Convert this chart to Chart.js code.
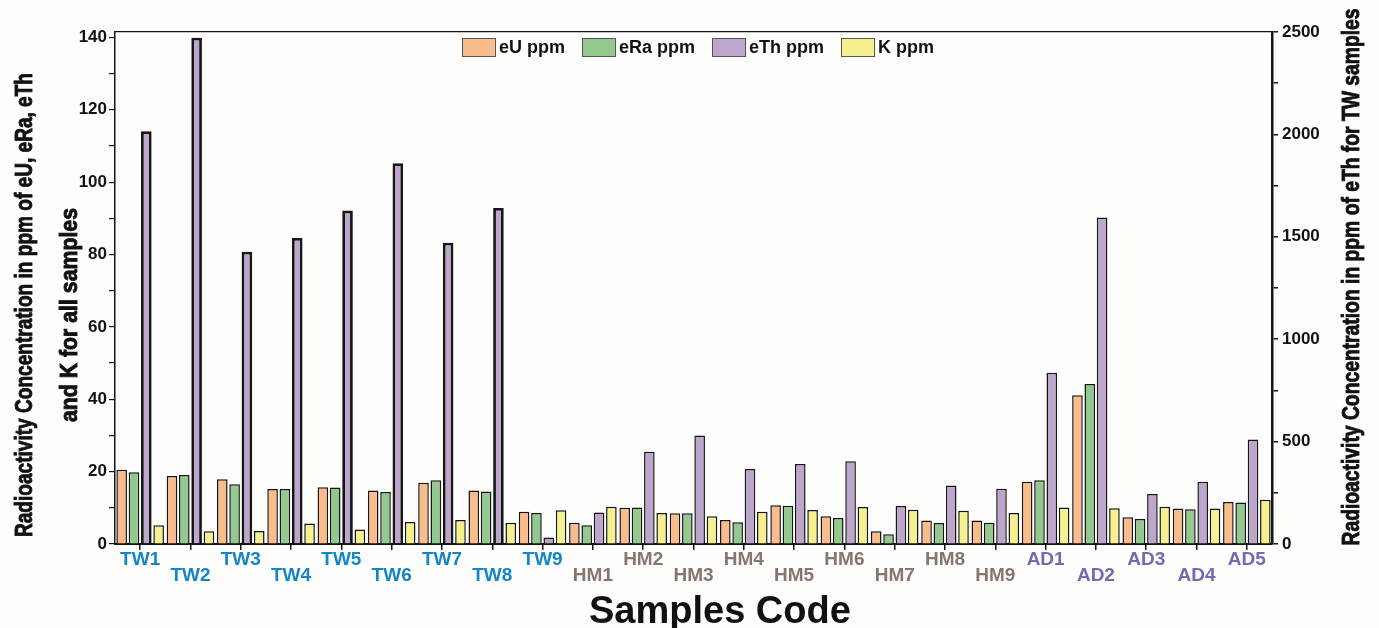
<!DOCTYPE html>
<html>
<head>
<meta charset="utf-8">
<script src="https://cdn.jsdelivr.net/npm/chart.js@4.4.1/dist/chart.umd.min.js"></script>
<style>
  html, body { margin: 0; padding: 0; background: #fdfdfc; }
  #wrap { width: 1379px; height: 628px; }
</style>
</head>
<body>
<div id="wrap"><canvas id="radChart" width="1379" height="628"></canvas></div>
<script>
// sample codes along the x axis
const samples = ['TW1','TW2','TW3','TW4','TW5','TW6','TW7','TW8','TW9',
                 'HM1','HM2','HM3','HM4','HM5','HM6','HM7','HM8','HM9',
                 'AD1','AD2','AD3','AD4','AD5'];

// ppm values (left axis)
const eU  = [20.5,18.8,17.9,15.2,15.7,14.8,16.9,14.8,8.9, 5.9,10.0,8.5,6.6,10.7,7.7,3.5,6.5,6.5, 17.2,41.1,7.4,9.8,11.6];
const eRa = [19.8,19.1,16.5,15.2,15.6,14.4,17.6,14.5,8.6, 5.2,10.1,8.5,6.0,10.6,7.2,2.7,5.8,5.9, 17.6,44.2,6.9,9.6,11.5];
const eTh = [null,null,null,null,null,null,null,null,1.8, 8.7,25.5,30.0,20.7,22.1,22.9,10.5,16.2,15.3, 47.3,90.2,13.8,17.2,28.9];
const K   = [5.2,3.5,3.6,5.7,4.0,6.1,6.6,5.9,9.3, 10.3,8.6,7.7,8.9,9.4,10.2,9.5,9.2,8.6, 10.1,9.9,10.3,9.8,12.2];
// eTh of TW samples (right axis)
const eThTW = [2015,2472,1427,1494,1628,1859,1471,1641,null, null,null,null,null,null,null,null,null,null, null,null,null,null,null];

const leftTicks = [0, 20, 40, 60, 80, 100, 120, 140];
const rightTicks = [0, 500, 1000, 1500, 2000, 2500];

const leftTitle = ['Radioactivity Concentration in ppm of eU, eRa, eTh', 'and K for all samples'];
const rightTitleText = 'Radioactivity Concentration in ppm of eTh for TW samples';
const xTitle = 'Samples Code';

const orange = 'rgb(250,188,138)', green = 'rgb(147,201,143)';
const purple = 'rgb(188,166,204)', yellow = 'rgb(246,241,143)';
const edge = '#151515';
const sansBold = '"Liberation Sans", Arial, sans-serif';

function groupColor(i) {
    const s = samples[i] || '';
    if (s.startsWith('TW')) return '#1485c5';
    if (s.startsWith('HM')) return '#85766f';
    return '#7a66b3';
}

// legend drawn inside plot, under the top frame
const insideLegend = {
    id: 'insideLegend',
    afterDraw(chart) {
        const ctx = chart.ctx;
        const items = chart.data.datasets.filter(d => !d.noLegend);
        let x = 462, y = 38;
        ctx.save();
        ctx.font = 'bold 18px ' + sansBold;
        ctx.textBaseline = 'middle';
        ctx.textAlign = 'left';
        items.forEach(d => {
            ctx.fillStyle = d.backgroundColor;
            ctx.fillRect(x, y, 34, 19);
            ctx.strokeStyle = '#555';
            ctx.lineWidth = 1;
            ctx.strokeRect(x + 0.5, y + 0.5, 33, 18);
            ctx.fillStyle = '#111';
            ctx.fillText(d.label, x + 37, y + 10);
            x += 34 + 3 + ctx.measureText(d.label).width + 17;
        });
        ctx.restore();
    }
};

// vertical titles, narrowed like the condensed face of the original
function drawVertical(ctx, text, x, y, len) {
    const sx = len / ctx.measureText(text).width;
    ctx.save();
    ctx.translate(x, y);
    ctx.rotate(-Math.PI / 2);
    ctx.scale(sx, 1);
    ctx.fillText(text, 0, 0);
    ctx.strokeText(text, 0, 0);
    ctx.restore();
}

const sideTitles = {
    id: 'sideTitles',
    afterDraw(chart) {
        const ctx = chart.ctx;
        ctx.save();
        ctx.font = 'bold 24px ' + sansBold;
        ctx.fillStyle = '#111';
        ctx.strokeStyle = '#111';
        ctx.lineWidth = 0.9;
        ctx.textAlign = 'center';
        ctx.textBaseline = 'middle';
        drawVertical(ctx, leftTitle[0], 25, 305, 464);
        drawVertical(ctx, leftTitle[1], 70, 315, 214);
        drawVertical(ctx, rightTitleText, 1352, 277, 537);
        ctx.restore();
    }
};

const barCommon = { borderColor: edge, borderWidth: 1.5 };

const config = {
    type: 'bar',
    data: {
        labels: samples,
        datasets: [
            { label: 'eU ppm', data: eU, backgroundColor: orange, stack: 's1', yAxisID: 'y', ...barCommon },
            { label: 'eRa ppm', data: eRa, backgroundColor: green, stack: 's2', yAxisID: 'y', ...barCommon },
            { label: 'eTh ppm', data: eTh, backgroundColor: purple, stack: 's3', yAxisID: 'y', ...barCommon },
            { label: 'eTh ppm (TW)', data: eThTW, backgroundColor: purple, stack: 's3', yAxisID: 'y1',
              borderColor: edge, borderWidth: 2.8, noLegend: true },
            { label: 'K ppm', data: K, backgroundColor: yellow, stack: 's4', yAxisID: 'y', ...barCommon }
        ]
    },
    options: {
        responsive: false,
        animation: false,
        categoryPercentage: 0.98,
        barPercentage: 0.86,
        layout: { padding: { top: 32, left: 0, right: 0, bottom: 0 } },
        plugins: {
            legend: { display: false },
            tooltip: { enabled: false }
        },
        scales: {
            x: {
                stacked: true,
                grid: { display: true, drawOnChartArea: false, drawTicks: true, tickLength: 6,
                        offset: false, color: edge, lineWidth: 1.5 },
                border: { display: true, color: edge, width: 2 },
                ticks: {
                    autoSkip: false, maxRotation: 0, padding: 2,
                    font: { family: sansBold, size: 19, weight: 'bold', lineHeight: 0.82 },
                    color: ctx => groupColor(ctx.index),
                    callback: function (value, index) {
                        const s = this.getLabelForValue(value);
                        return index % 2 === 0 ? [s] : ['', s];
                    }
                },
                title: {
                    display: true, text: '     ' + xTitle, color: '#111',
                    font: { family: sansBold, size: 38, weight: 'bold', lineHeight: 0.8 },
                    padding: { top: 0, bottom: 0 }
                },
                afterFit: s => { s.height = 84; }
            },
            x2: {
                type: 'category', position: 'top',
                ticks: { display: false },
                grid: { display: false },
                border: { display: true, color: edge, width: 1.2 },
                afterFit: s => { s.height = 0; }
            },
            y: {
                position: 'left', min: 0, max: 141.5, stacked: false,
                grid: { display: true, drawOnChartArea: false, tickLength: 6, color: edge, lineWidth: 1.2 },
                border: { display: true, color: edge, width: 1.5 },
                ticks: {
                    stepSize: 10, includeBounds: false, padding: 2, color: '#111',
                    font: { family: sansBold, size: 17, weight: 'bold' },
                    callback: v => leftTicks.includes(v) ? v : ''
                },
                afterFit: s => { s.width = 115; }
            },
            y1: {
                position: 'right', min: 0, max: 2500, stacked: false,
                grid: { display: true, drawOnChartArea: false, tickLength: 6, color: edge, lineWidth: 1.5 },
                border: { display: true, color: edge, width: 2.5 },
                ticks: {
                    stepSize: 250, padding: 4, color: '#111',
                    font: { family: sansBold, size: 17, weight: 'bold' },
                    callback: v => rightTicks.includes(v) ? v : ''
                },
                afterFit: s => { s.width = 107; }
            }
        }
    },
    plugins: [insideLegend, sideTitles]
};

const radChart = new Chart(document.getElementById('radChart'), config);
</script>
</body>
</html>
